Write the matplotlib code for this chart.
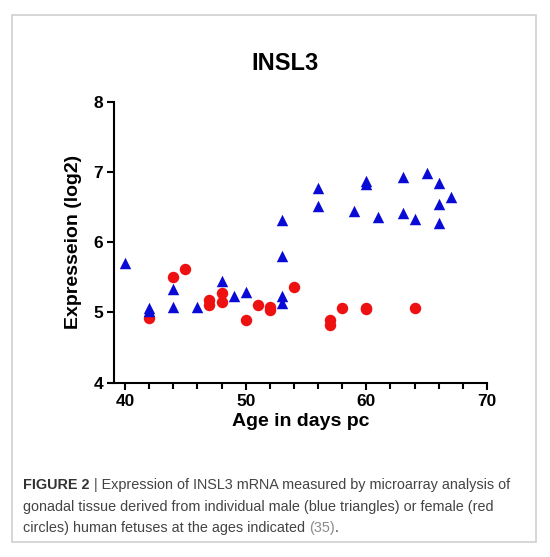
import numpy as np
import matplotlib
matplotlib.use("Agg")
import matplotlib.pyplot as plt
from matplotlib.patches import Rectangle
from matplotlib.ticker import MultipleLocator

plt.rcParams["font.family"] = ["Liberation Sans", "DejaVu Sans"]

# male (blue triangles)
MALE_AGE = [40, 42, 42, 44, 44, 46, 48, 49, 50, 53, 53, 53, 53, 56, 56,
            59, 60, 60, 61, 63, 63, 64, 65, 66, 66, 66, 67]
MALE_EXPR = [5.70, 5.07, 5.02, 5.33, 5.08, 5.08, 5.45, 5.24, 5.29, 6.32, 5.80, 5.23, 5.13, 6.77, 6.52,
             6.44, 6.87, 6.83, 6.36, 6.93, 6.42, 6.33, 6.99, 6.84, 6.55, 6.28, 6.64]

# female (red circles)
FEMALE_AGE = [42, 44, 45, 47, 47, 48, 48, 50, 51, 52, 52, 54, 57, 57, 58, 60, 60, 64]
FEMALE_EXPR = [4.92, 5.51, 5.62, 5.18, 5.10, 5.28, 5.15, 4.89, 5.10, 5.08, 5.03, 5.36, 4.89, 4.82,
               5.07, 5.07, 5.05, 5.07]

X_TICKS = [40, 50, 60, 70]
Y_TICKS = [4, 5, 6, 7, 8]

W, H = 550, 557
fig = plt.figure(figsize=(W / 100, H / 100), dpi=100)

# outer frame around figure + caption
fig.patches.append(Rectangle((12 / W, 1 - 542 / H), (536 - 12) / W, (542 - 15) / H,
                             transform=fig.transFigure, fill=False,
                             edgecolor="#cfcfcf", linewidth=1.2))

ax = fig.add_axes([114 / W, 1 - 382.7 / H, (487 - 114) / W, (382.7 - 101.7) / H])
ax.scatter(FEMALE_AGE, FEMALE_EXPR, marker="o", s=68, color="#ee1111", linewidths=0, zorder=3)
ax.scatter(MALE_AGE, MALE_EXPR, marker="^", s=68, color="#0a0ad6", linewidths=0, zorder=4)

ax.set_xlim(39.09, 70)
ax.set_ylim(4, 8)
ax.set_xticks(X_TICKS)
ax.set_yticks(Y_TICKS)
ax.xaxis.set_minor_locator(MultipleLocator(2))
for s in ["top", "right"]:
    ax.spines[s].set_visible(False)
for s in ["left", "bottom"]:
    ax.spines[s].set_linewidth(1.5)
ax.tick_params(axis="both", which="major", length=5, width=1.5, labelsize=12.5, pad=3)
ax.tick_params(axis="x", which="minor", length=4, width=1.5)
for lab in ax.get_xticklabels() + ax.get_yticklabels():
    lab.set_fontweight("bold")

ax.set_xlabel("Age in days pc", fontsize=14, fontweight="bold", labelpad=3)
ax.set_ylabel("Expresseion (log2)", fontsize=14, fontweight="bold", labelpad=8)
fig.text(285 / W, 1 - 63 / H, "INSL3", fontsize=17, fontweight="bold",
         ha="center", va="center")

# caption
cap_x = 23 / W
t_bold = fig.text(cap_x, 1 - 485 / H, "FIGURE 2", fontsize=10.4, fontweight="bold",
                  color="#333333", va="center")
fig.canvas.draw()
bb = t_bold.get_window_extent()
fig.text(bb.x1 / W, 1 - 485 / H,
         " | Expression of INSL3 mRNA measured by microarray analysis of",
         fontsize=10.4, color="#444444", va="center")
fig.text(cap_x, 1 - 507 / H,
         "gonadal tissue derived from individual male (blue triangles) or female (red",
         fontsize=10.4, color="#444444", va="center")
t3 = fig.text(cap_x, 1 - 528 / H, "circles) human fetuses at the ages indicated ",
              fontsize=10.4, color="#444444", va="center")
fig.canvas.draw()
bb3 = t3.get_window_extent()
t4 = fig.text(bb3.x1 / W, 1 - 528 / H, "(35)", fontsize=10.4, color="#8a8a8a", va="center")
fig.canvas.draw()
bb4 = t4.get_window_extent()
fig.text(bb4.x1 / W, 1 - 528 / H, ".", fontsize=10.4, color="#444444", va="center")

fig.savefig("out.png", dpi=100)
